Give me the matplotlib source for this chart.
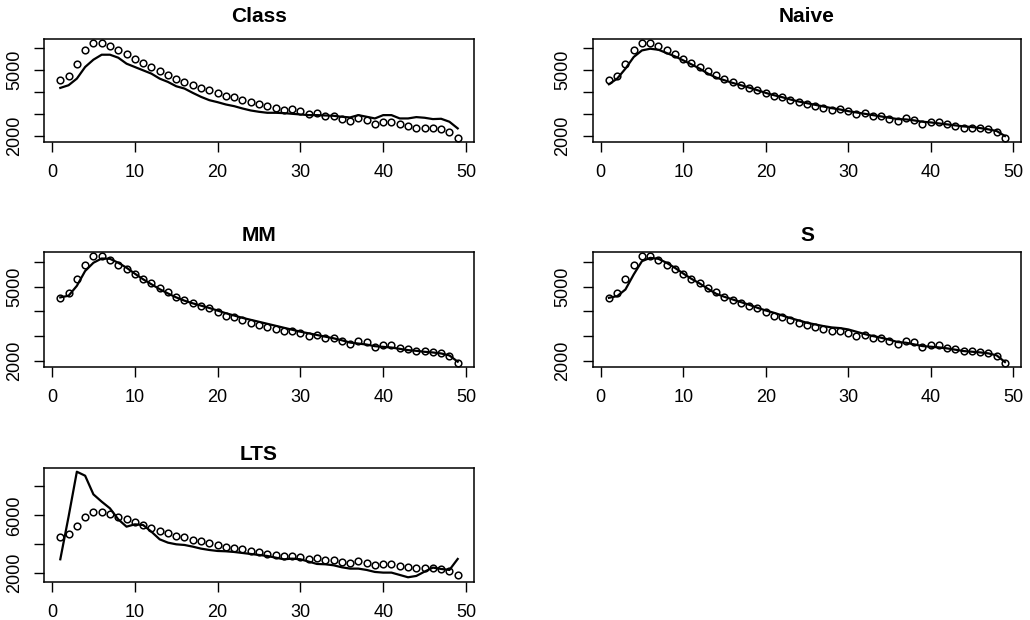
import matplotlib
matplotlib.use("Agg")
import matplotlib.pyplot as plt
import numpy as np

plt.rcParams['font.family'] = ['Liberation Sans', 'DejaVu Sans']

x = np.arange(1, 50)

# observed values (open circles), same in every panel
observed = [4534, 4730, 5288, 5890, 6223, 6223, 6087, 5890, 5725, 5514,
            5318, 5137, 4941, 4775, 4594, 4474, 4323, 4202, 4112, 3976,
            3810, 3765, 3644, 3538, 3463, 3357, 3282, 3192, 3207, 3116,
            2980, 3041, 2905, 2905, 2784, 2694, 2814, 2739, 2543, 2633,
            2618, 2528, 2468, 2377, 2377, 2362, 2302, 2181, 1910]

class_fit = [4187, 4308, 4609, 5137, 5469, 5695, 5695, 5560, 5288, 5137,
             4986, 4836, 4609, 4459, 4262, 4157, 3961, 3780, 3629, 3538,
             3433, 3357, 3252, 3161, 3101, 3056, 3056, 3041, 3010, 2980,
             2950, 2950, 2935, 2920, 2875, 2845, 2950, 2875, 2799, 2950,
             2950, 2799, 2799, 2860, 2830, 2769, 2784, 2649, 2347]

naive_fit = [4353, 4609, 5062, 5590, 5890, 5967, 5921, 5770, 5620, 5439,
             5258, 5062, 4836, 4655, 4534, 4413, 4308, 4202, 4081, 3961,
             3855, 3765, 3659, 3569, 3493, 3418, 3342, 3267, 3207, 3131,
             3071, 3010, 2950, 2890, 2830, 2769, 2754, 2709, 2649, 2618,
             2573, 2528, 2483, 2437, 2407, 2362, 2302, 2226, 2000]

mm_fit = [4560, 4627, 5027, 5627, 5960, 6133, 6120, 5960, 5760, 5520,
          5293, 5093, 4893, 4720, 4560, 4427, 4320, 4227, 4133, 4027,
          3920, 3827, 3733, 3653, 3573, 3493, 3413, 3333, 3253, 3173,
          3107, 3040, 2973, 2907, 2827, 2733, 2693, 2653, 2587, 2560,
          2533, 2480, 2427, 2400, 2360, 2333, 2293, 2213, 1960]

s_fit = [4544, 4611, 4880, 5486, 6024, 6159, 6119, 5957, 5755, 5527,
         5311, 5123, 4907, 4705, 4584, 4476, 4369, 4261, 4140, 4032,
         3938, 3830, 3723, 3628, 3534, 3467, 3400, 3346, 3319, 3265,
         3171, 3077, 2996, 2929, 2848, 2754, 2727, 2660, 2592, 2565,
         2538, 2498, 2444, 2390, 2363, 2336, 2296, 2215, 1946]

lts_fit = [2966, 5908, 9011, 8736, 7448, 6943, 6483, 5724, 5218, 5379,
           5333, 4874, 4345, 4115, 4000, 3954, 3839, 3701, 3609, 3540,
           3517, 3471, 3402, 3333, 3264, 3195, 3080, 2966, 3011, 2966,
           2805, 2644, 2621, 2552, 2414, 2322, 2322, 2230, 2092, 2046,
           2046, 1885, 1724, 1816, 2115, 2391, 2299, 2230, 2989]

titles = ["Class", "Naive", "MM", "S", "LTS"]
fits = [class_fit, naive_fit, mm_fit, s_fit, lts_fit]
x_ticks = [0, 10, 20, 30, 40, 50]
y_ticks = [[2000, 3000, 4000, 5000, 6000]] * 4 + [[2000, 4000, 6000, 8000]]
y_labels = [["2000", "", "", "5000", ""]] * 4 + [["2000", "", "6000", ""]]

W, H = 1030, 620
# panel boxes in pixels: left, top, right, bottom
boxes = [(44.4, 39.3, 473.6, 141.8), (593.1, 39.3, 1020.8, 141.8),
         (44.4, 252.0, 473.6, 367.2), (593.1, 252.0, 1020.8, 367.2),
         (44.4, 467.5, 473.6, 581.5)]
title_base = [21.7, 21.7, 240.7, 240.7, 460.0]

fig = plt.figure(figsize=(W / 100, H / 100), dpi=100)

for i in range(5):
    l, t, r, b = boxes[i]
    ax = fig.add_axes([l / W, 1 - b / H, (r - l) / W, (b - t) / H])
    ax.plot(x, fits[i], color='black', lw=1.6)
    ax.plot(x, observed, 'o', mfc='none', mec='black', ms=4.8, mew=1.1)
    ax.margins(x=0.04, y=0.04)
    ax.set_xticks(x_ticks)
    ax.set_yticks(y_ticks[i])
    ax.set_yticklabels(y_labels[i], rotation=90, va='center')
    ax.tick_params(axis='both', length=7, width=1.0, labelsize=13, color='black')
    ax.tick_params(axis='x', pad=9)
    ax.tick_params(axis='y', pad=8.5)
    for sp in ax.spines.values():
        sp.set_linewidth(1.1)
    fig.text((l + r) / 2 / W, 1 - title_base[i] / H, titles[i],
             ha='center', va='baseline', fontsize=15, fontweight='bold')

fig.savefig("out.png", dpi=100)
